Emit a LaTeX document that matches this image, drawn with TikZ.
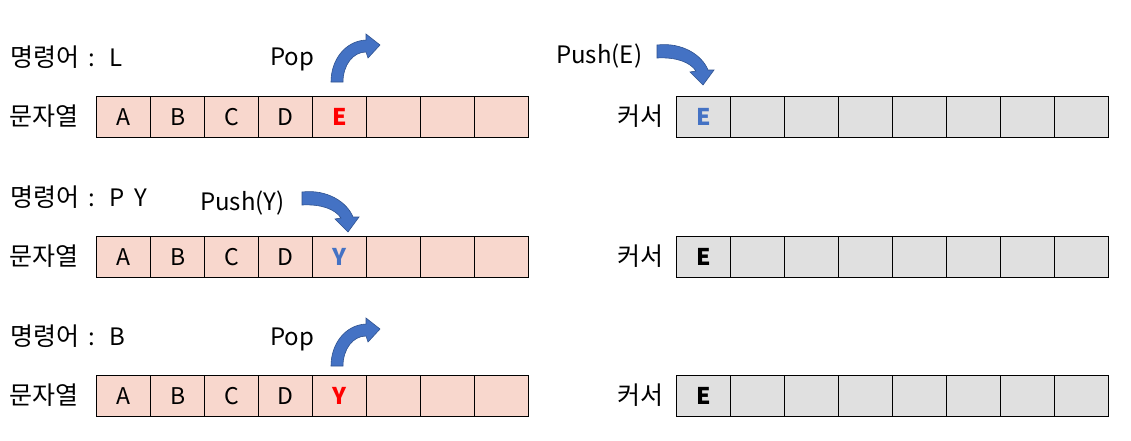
\documentclass[tikz,border=0pt]{standalone}
\usepackage{fontspec}
\setmainfont{Noto Sans CJK KR}
\definecolor{cellpink}{HTML}{F8D7CD}
\definecolor{cellgray}{HTML}{E0E0E0}
\definecolor{arrowblue}{HTML}{4472C4}
\definecolor{arrowedge}{HTML}{2F528F}
\definecolor{popred}{HTML}{FF0000}
\newcommand{\kor}{\fontsize{25}{28}\selectfont}
\begin{document}
\begin{tikzpicture}[x=1pt,y=-1pt,
  lbl/.style={anchor=base west,inner sep=0pt,font=\fontsize{24}{28}\selectfont},
  side/.style={inner sep=0pt,font=\kor},
  pcell/.style={draw=black,line width=1.2pt,fill=cellpink,minimum width=54pt,minimum height=41pt,inner sep=0pt,anchor=north west,font=\fontsize{22}{26}\selectfont},
  gcell/.style={pcell,fill=cellgray},
  blk/.style={fill=arrowblue,draw=arrowedge,line width=0.6pt}]
\useasboundingbox[fill=white] (0,0) rectangle (1131,440);

% row labels
\node[lbl] (cmd1) at (10,66) {{\kor 명령어}\hspace{9pt}:\hspace{15pt}L};
\node[lbl] (cmd2) at (10,206) {{\kor 명령어}\hspace{9pt}:\hspace{15pt}P\hspace{9pt}Y};
\node[lbl] (cmd3) at (10,345) {{\kor 명령어}\hspace{9pt}:\hspace{15pt}B};
\node[lbl] (pop1) at (270,65) {Pop};
\node[lbl] (pop3) at (270,345) {Pop};
\node[lbl] (pushE) at (556,63) {Push(E)};
\node[lbl] (pushY) at (200,210) {Push(Y)};

\foreach \r/\yy in {1/96,2/236,3/375}{
  \node[side,anchor=west] (str\r) at (9,\yy+20) {문자열};
  \node[side,anchor=east] (cur\r) at (664,\yy+20) {커서};
  \foreach \i in {0,...,7}{
    \node[pcell] (s\r c\i) at (96+54*\i,\yy) {};
    \node[gcell] (k\r c\i) at (676+54*\i,\yy) {};
  }
  \node at (s\r c0) {\fontsize{23}{26}\selectfont A};
  \node at (s\r c1) {\fontsize{23}{26}\selectfont B};
  \node at (s\r c2) {\fontsize{23}{26}\selectfont C};
  \node at (s\r c3) {\fontsize{23}{26}\selectfont D};
}
\node[text=popred] at (s1c4) {\fontsize{23}{26}\selectfont\bfseries E};
\node[text=arrowblue] at (s2c4) {\fontsize{23}{26}\selectfont\bfseries Y};
\node[text=popred] at (s3c4) {\fontsize{23}{26}\selectfont\bfseries Y};
\node[text=arrowblue] at (k1c0) {\fontsize{23}{26}\selectfont\bfseries E};
\node at (k2c0) {\fontsize{23}{26}\selectfont\bfseries E};
\node at (k3c0) {\fontsize{23}{26}\selectfont\bfseries E};

% pop arrows
\foreach \dy in {0,284}{
  \begin{scope}[yshift=-\dy pt]
  \path[blk] (331,82) .. controls (331,60) and (345,41) .. (366,40) -- (366,34) -- (380,45) -- (368,58) -- (366,52) .. controls (353,52) and (343,65) .. (343,82) -- cycle;
  \end{scope}
}
% push arrows
\foreach \dx/\dy in {0/0,-355/147}{
  \begin{scope}[xshift=\dx pt,yshift=-\dy pt]
  \path[blk] (657,45) .. controls (682,42) and (702,55) .. (708,70) -- (714,70) -- (703,85) -- (690,72) -- (696,71) .. controls (690,62) and (676,57) .. (657,58) -- cycle;
  \end{scope}
}
\end{tikzpicture}
\end{document}
